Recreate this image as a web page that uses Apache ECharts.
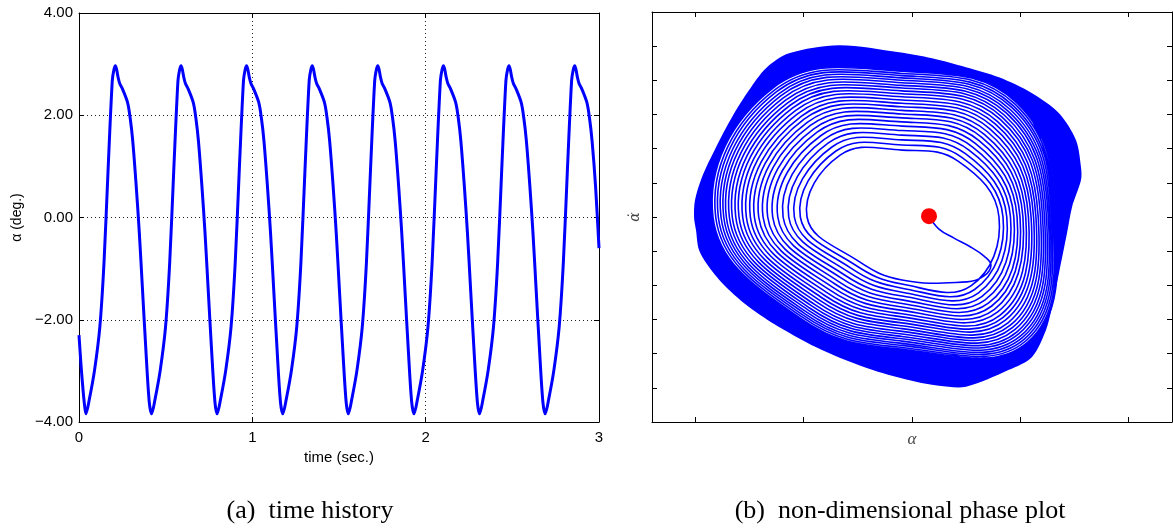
<!DOCTYPE html>
<html>
<head>
<meta charset="utf-8">
<script src="https://cdn.jsdelivr.net/npm/echarts@6/dist/echarts.min.js"></script>
<style>
  html, body { margin: 0; padding: 0; background: #fff; }
  #chart { width: 1173px; height: 530px; }
</style>
</head>
<body>
<div id="chart"></div>
<script>
// ---------------- (a) time history ----------------
// time samples (s) and pitch angle alpha (deg)
const timeSec = [
  0.000, 0.012, 0.024, 0.033,
  0.040, 0.060, 0.090, 0.120, 0.144, 0.168, 0.192, 0.202, 0.210, 0.217, 0.225, 0.235, 0.250, 0.280, 0.295, 0.310, 0.330, 0.348, 0.367, 0.386, 0.405,
  0.419, 0.439, 0.469, 0.499, 0.523, 0.547, 0.571, 0.581, 0.589, 0.596, 0.604, 0.614, 0.629, 0.659, 0.674, 0.689, 0.709, 0.727, 0.746, 0.765, 0.784,
  0.797, 0.817, 0.847, 0.877, 0.901, 0.925, 0.949, 0.959, 0.967, 0.974, 0.982, 0.992, 1.007, 1.037, 1.052, 1.067, 1.087, 1.105, 1.124, 1.143, 1.162,
  1.176, 1.196, 1.226, 1.256, 1.280, 1.304, 1.328, 1.338, 1.346, 1.353, 1.361, 1.371, 1.386, 1.416, 1.431, 1.446, 1.466, 1.484, 1.503, 1.522, 1.541,
  1.554, 1.574, 1.604, 1.634, 1.658, 1.682, 1.706, 1.716, 1.724, 1.731, 1.739, 1.749, 1.764, 1.794, 1.809, 1.824, 1.844, 1.862, 1.881, 1.900, 1.919,
  1.933, 1.953, 1.983, 2.013, 2.037, 2.061, 2.085, 2.095, 2.103, 2.110, 2.118, 2.128, 2.143, 2.173, 2.188, 2.203, 2.223, 2.241, 2.260, 2.279, 2.298,
  2.311, 2.331, 2.361, 2.391, 2.415, 2.439, 2.463, 2.473, 2.481, 2.488, 2.496, 2.506, 2.521, 2.551, 2.566, 2.581, 2.601, 2.619, 2.638, 2.657, 2.676,
  2.690, 2.710, 2.740, 2.770, 2.794, 2.818, 2.842, 2.852, 2.860, 2.867, 2.875, 2.885, 2.900, 2.930, 2.945, 2.960, 2.980, 3.000
];
const alphaDeg = [
  -2.30, -2.90, -3.40, -3.70,
  -3.84, -3.55, -2.98, -2.15, -0.90, 0.95, 2.68, 2.90, 2.97, 2.90, 2.75, 2.62, 2.52, 2.25, 1.95, 1.50, 0.62, -0.30, -1.45, -2.60, -3.60,
  -3.84, -3.55, -2.98, -2.15, -0.90, 0.95, 2.68, 2.90, 2.97, 2.90, 2.75, 2.62, 2.52, 2.25, 1.95, 1.50, 0.62, -0.30, -1.45, -2.60, -3.60,
  -3.84, -3.55, -2.98, -2.15, -0.90, 0.95, 2.68, 2.90, 2.97, 2.90, 2.75, 2.62, 2.52, 2.25, 1.95, 1.50, 0.62, -0.30, -1.45, -2.60, -3.60,
  -3.84, -3.55, -2.98, -2.15, -0.90, 0.95, 2.68, 2.90, 2.97, 2.90, 2.75, 2.62, 2.52, 2.25, 1.95, 1.50, 0.62, -0.30, -1.45, -2.60, -3.60,
  -3.84, -3.55, -2.98, -2.15, -0.90, 0.95, 2.68, 2.90, 2.97, 2.90, 2.75, 2.62, 2.52, 2.25, 1.95, 1.50, 0.62, -0.30, -1.45, -2.60, -3.60,
  -3.84, -3.55, -2.98, -2.15, -0.90, 0.95, 2.68, 2.90, 2.97, 2.90, 2.75, 2.62, 2.52, 2.25, 1.95, 1.50, 0.62, -0.30, -1.45, -2.60, -3.60,
  -3.84, -3.55, -2.98, -2.15, -0.90, 0.95, 2.68, 2.90, 2.97, 2.90, 2.75, 2.62, 2.52, 2.25, 1.95, 1.50, 0.62, -0.30, -1.45, -2.60, -3.60,
  -3.84, -3.55, -2.98, -2.15, -0.90, 0.95, 2.68, 2.90, 2.97, 2.90, 2.75, 2.62, 2.52, 2.25, 1.95, 1.50, 0.62, -0.60
];
const timeRange = [0, 3];
const alphaRange = [-4, 4];

// ---------------- (b) non-dimensional phase plot ----------------
// Spiral measured along eight reading lines through its centre;
// each list gives the offset of successive loops (inner to outer).
const spiralCentre = [-0.092, 0.0];
const loopsBR = [0.600,0.636,0.670,0.703,0.736,0.767,0.797,0.825,0.853,0.880,0.906,0.930,0.954,0.978,1.000,1.021,1.041,1.061,1.079,1.097,1.113,1.129,1.144,1.158,1.171];
const loopsB  = [0.582,0.620,0.658,0.695,0.731,0.766,0.799,0.832,0.863,0.894,0.923,0.952,0.979,1.006,1.032,1.057,1.081,1.104,1.126,1.147,1.168,1.187,1.206,1.223,1.240];
const loopsBL = [0.406,0.439,0.472,0.503,0.534,0.563,0.592,0.619,0.646,0.672,0.697,0.721,0.744,0.766,0.787,0.808,0.827,0.846,0.863,0.880,0.895,0.910,0.924,0.937,0.949];
const loopsL  = [0.877,0.939,0.994,1.046,1.098,1.147,1.194,1.240,1.283,1.323,1.363,1.400,1.437,1.471,1.505,1.535,1.567,1.594,1.622,1.646,1.671,1.696,1.720,1.745,1.770];
const loopsTL = [0.572,0.610,0.647,0.683,0.718,0.751,0.784,0.815,0.846,0.875,0.904,0.931,0.958,0.984,1.009,1.033,1.056,1.078,1.099,1.120,1.139,1.158,1.175,1.192,1.207];
const loopsT  = [0.618,0.666,0.713,0.757,0.799,0.840,0.879,0.916,0.952,0.986,1.019,1.051,1.081,1.111,1.139,1.166,1.192,1.217,1.241,1.264,1.286,1.307,1.327,1.347,1.365];
const loopsTR = [0.517,0.552,0.585,0.618,0.649,0.679,0.708,0.736,0.762,0.788,0.813,0.837,0.860,0.882,0.904,0.924,0.943,0.962,0.979,0.996,1.013,1.028,1.043,1.057,1.070];
const loopsR  = [0.895,0.932,0.967,1.001,1.032,1.062,1.089,1.116,1.142,1.167,1.191,1.214,1.236,1.257,1.278,1.297,1.315,1.333,1.350,1.365,1.380,1.394,1.407,1.419,1.431];

// path leaving the initial state before it joins the first loop
const startPath = [[0.157,0.008],[0.249,-0.112],[0.388,-0.195],[0.526,-0.268],[0.665,-0.361],[0.729,-0.443],[0.665,-0.545]];
// outer edge of the tightly wound (saturated) band, clockwise from the top
const outerEdge = [
  [-0.674,1.587],[-0.120,1.522],[0.185,1.467],[0.498,1.384],[0.803,1.291],[1.108,1.144],[1.357,0.959],
  [1.514,0.710],[1.560,0.461],[1.560,0.341],[1.477,0.091],[1.431,-0.149],[1.357,-0.518],[1.292,-0.832],
  [1.237,-1.044],[1.108,-1.293],[0.895,-1.413],[0.498,-1.570],[0.249,-1.561],[0.037,-1.524],[-0.369,-1.413],
  [-0.831,-1.229],[-1.228,-1.016],[-1.505,-0.832],[-1.717,-0.647],[-1.874,-0.462],[-1.966,-0.306],[-1.994,-0.121],
  [-2.012,0.000],[-2.003,0.156],[-1.939,0.368],[-1.809,0.645],[-1.662,0.922],[-1.505,1.171],[-1.348,1.375],[-1.135,1.513]
];
const initialState = [0.157, 0.008];
const phaseXTicks = [-2, -1, 0, 1, 2];
const phaseYTicks = [-1.579, -1.263, -0.947, -0.631, -0.316, 0, 0.316, 0.631, 0.947, 1.263, 1.579];
const phaseXRange = [-2.4, 2.4];
const phaseYRange = [-1.895, 1.895];

// ---------------- build series data ----------------
const historyData = timeSec.map((t, i) => [t, alphaDeg[i]]);

// reading lines in clockwise order, with their direction in data space
const readingLines = [
  { loops: loopsBR, dir: [1, -1] },
  { loops: loopsB,  dir: [0, -1] },
  { loops: loopsBL, dir: [-1, -1] },
  { loops: loopsL,  dir: [-1, 0] },
  { loops: loopsTL, dir: [-1, 1] },
  { loops: loopsT,  dir: [0, 1] },
  { loops: loopsTR, dir: [1, 1] },
  { loops: loopsR,  dir: [1, 0] }
];
function loopPoint(line, k) {
  const d = line.loops[k];
  return [spiralCentre[0] + line.dir[0] * d, spiralCentre[1] + line.dir[1] * d];
}
const spiralData = startPath.slice();
const loopCount = loopsL.length;
for (let k = 0; k < loopCount; k++) {
  readingLines.forEach(line => spiralData.push(loopPoint(line, k)));
}
// inner edge of the solid band: the loop just inside the outermost one
const bandInner = readingLines.map(line => loopPoint(line, loopCount - 2));

// ---------------- chart ----------------
const SANS = '"Liberation Sans", Arial, Helvetica, sans-serif';
const SERIF = '"Liberation Serif", "Times New Roman", serif';
const BLUE = '#0000ff';
const CURVE_SMOOTH = 0.42;

const boxLine = { show: true, onZero: false, lineStyle: { color: '#000', width: 1 } };
const boxTick = { show: true, inside: true, length: 5, lineStyle: { color: '#000', width: 1 } };
const dotted = { show: true, lineStyle: { type: [1, 3], color: '#222', width: 1 } };
const fmtAlpha = v => (v < 0 ? '\u2212' : '') + Math.abs(v).toFixed(2);

const option = {
  animation: false,
  backgroundColor: '#fff',
  grid: [
    { left: 79, top: 13, width: 520, height: 409 },
    { left: 652, top: 12, width: 520, height: 410 }
  ],
  xAxis: [
    { gridIndex: 0, type: 'value', position: 'bottom', min: timeRange[0], max: timeRange[1], interval: 1,
      axisLine: boxLine, axisTick: boxTick, splitLine: dotted,
      axisLabel: { color: '#000', fontFamily: SANS, fontSize: 15, margin: 8 },
      name: 'time (sec.)', nameLocation: 'middle', nameGap: 26,
      nameTextStyle: { color: '#000', fontFamily: SANS, fontSize: 15 } },
    { gridIndex: 0, type: 'value', position: 'top', min: timeRange[0], max: timeRange[1], interval: 1,
      axisLine: boxLine, axisTick: boxTick, axisLabel: { show: false }, splitLine: { show: false } },
    { gridIndex: 1, type: 'value', position: 'bottom', min: phaseXRange[0], max: phaseXRange[1],
      axisLine: boxLine, axisTick: Object.assign({ customValues: phaseXTicks }, boxTick),
      axisLabel: { show: false }, splitLine: { show: false },
      name: 'α', nameLocation: 'middle', nameGap: 9,
      nameTextStyle: { color: '#444', fontFamily: SERIF, fontStyle: 'italic', fontSize: 17 } },
    { gridIndex: 1, type: 'value', position: 'top', min: phaseXRange[0], max: phaseXRange[1],
      axisLine: boxLine, axisTick: Object.assign({ customValues: phaseXTicks }, boxTick),
      axisLabel: { show: false }, splitLine: { show: false } }
  ],
  yAxis: [
    { gridIndex: 0, type: 'value', position: 'left', min: alphaRange[0], max: alphaRange[1], interval: 2,
      axisLine: boxLine, axisTick: boxTick, splitLine: dotted,
      axisLabel: { color: '#000', fontFamily: SANS, fontSize: 15, margin: 6, formatter: fmtAlpha },
      name: 'α (deg.)', nameLocation: 'middle', nameGap: 55,
      nameTextStyle: { color: '#000', fontFamily: SANS, fontSize: 14 } },
    { gridIndex: 0, type: 'value', position: 'right', min: alphaRange[0], max: alphaRange[1], interval: 2,
      axisLine: boxLine, axisTick: boxTick, axisLabel: { show: false }, splitLine: { show: false } },
    { gridIndex: 1, type: 'value', position: 'left', min: phaseYRange[0], max: phaseYRange[1],
      axisLine: boxLine, axisTick: Object.assign({ customValues: phaseYTicks }, boxTick),
      axisLabel: { show: false }, splitLine: { show: false },
      name: 'α̇', nameLocation: 'middle', nameGap: 10,
      nameTextStyle: { color: '#444', fontFamily: '"DejaVu Serif", serif', fontStyle: 'italic', fontSize: 14 } },
    { gridIndex: 1, type: 'value', position: 'right', min: phaseYRange[0], max: phaseYRange[1],
      axisLine: boxLine, axisTick: Object.assign({ customValues: phaseYTicks }, boxTick),
      axisLabel: { show: false }, splitLine: { show: false } }
  ],
  series: [
    { type: 'line', xAxisIndex: 0, yAxisIndex: 0, data: historyData, smooth: 0.3,
      showSymbol: false, lineStyle: { color: BLUE, width: 3 }, z: 3 },
    // saturated outer band
    { type: 'custom', xAxisIndex: 2, yAxisIndex: 2, data: [[0, 0]], z: 1, silent: true,
      renderItem: (params, api) => ({
        type: 'group',
        children: [
          { type: 'polygon', shape: { points: outerEdge.map(p => api.coord(p)), smooth: 0.3 },
            style: { fill: BLUE } },
          { type: 'polygon', shape: { points: bandInner.map(p => api.coord(p)), smooth: CURVE_SMOOTH },
            style: { fill: '#fff' } }
        ]
      }) },
    // spiral trajectory
    { type: 'custom', xAxisIndex: 2, yAxisIndex: 2, data: [[0, 0]], z: 2, silent: true,
      renderItem: (params, api) => ({
        type: 'polyline',
        shape: { points: spiralData.map(p => api.coord(p)), smooth: CURVE_SMOOTH },
        style: { stroke: BLUE, lineWidth: 1.6, fill: 'none' }
      }) },
    { type: 'scatter', xAxisIndex: 2, yAxisIndex: 2, data: [initialState], symbolSize: 16,
      itemStyle: { color: '#ff0000', opacity: 1 }, z: 4 }
  ],
  graphic: [
    { type: 'text', x: 310, y: 511,
      style: { text: '(a)  time history', font: '26px ' + SERIF, fill: '#000', textAlign: 'center', textVerticalAlign: 'middle' } },
    { type: 'text', x: 900, y: 511,
      style: { text: '(b)  non-dimensional phase plot', font: '26px ' + SERIF, fill: '#000', textAlign: 'center', textVerticalAlign: 'middle' } }
  ]
};

const chart = echarts.init(document.getElementById('chart'), null, { renderer: 'canvas' });
chart.setOption(option);
</script>
</body>
</html>
